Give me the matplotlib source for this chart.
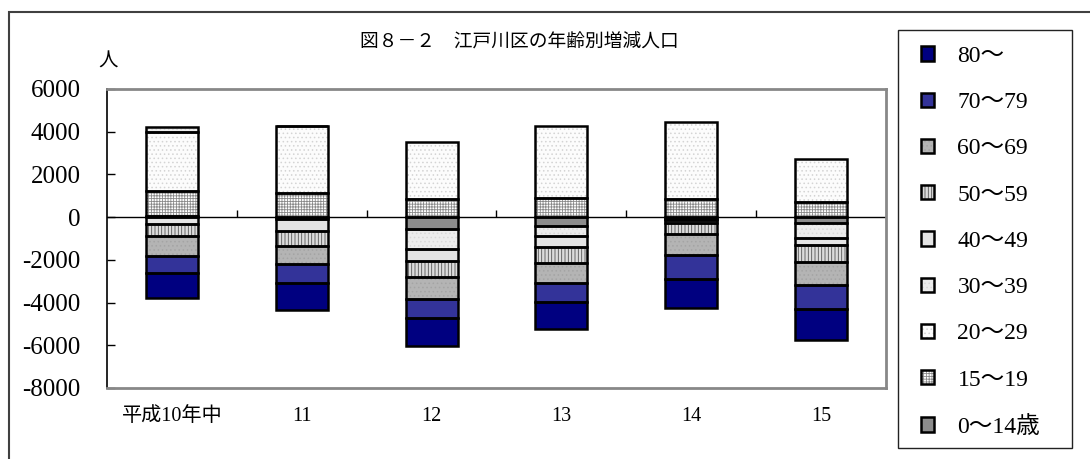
import matplotlib
matplotlib.use("Agg")
import matplotlib.pyplot as plt
from matplotlib.patches import Patch, Rectangle
import numpy as np

SERIF = ["Liberation Serif", "Noto Sans CJK JP"]
CJK = ["Noto Sans CJK JP", "Liberation Serif"]

plt.rcParams["font.family"] = SERIF
plt.rcParams["axes.unicode_minus"] = False
plt.rcParams["hatch.linewidth"] = 0.6

# 年次
years = ["平成10年中", "11", "12", "13", "14", "15"]

# 年齢階級（積み上げ順）
groups = ["0～14歳", "15～19", "20～29", "30～39", "40～49",
          "50～59", "60～69", "70～79", "80～"]

# 年齢階級別増減人口（人）
age_0_14 = [60, -80, -560, -420, -90, -290]
age_15_19 = [1180, 1130, 850, 915, 840, 710]
age_20_29 = [2730, 3115, 2680, 3330, 3600, 2015]
age_30_39 = [230, 0, -945, -450, -60, -670]
age_40_49 = [-330, -555, -540, -540, -110, -340]
age_50_59 = [-570, -700, -760, -745, -540, -820]
age_60_69 = [-930, -870, -1010, -930, -960, -1040]
age_70_79 = [-790, -870, -915, -885, -1130, -1160]
age_80 = [-1160, -1255, -1300, -1255, -1365, -1430]

series = [age_0_14, age_15_19, age_20_29, age_30_39, age_40_49,
          age_50_59, age_60_69, age_70_79, age_80]

# 塗り: (地の色, ハッチ, ハッチの色)
styles = [
    ("#8c8c8c", None, "#8c8c8c"),
    ("#ffffff", "++++++", "#8a8a8a"),
    ("#fcfcfc", "....", "#d4d4d4"),
    ("#ececec", "....", "#d8d8d8"),
    ("#e4e4e4", None, "#e4e4e4"),
    ("#dcdcdc", "|||||", "#555555"),
    ("#b4b4b4", "....", "#a4a4a4"),
    ("#333399", None, "#333399"),
    ("#000080", None, "#000080"),
]

fig = plt.figure(figsize=(10.9, 4.59), dpi=100)
W, H = 1090, 459

# 外枠
fig.patches.append(Rectangle((9 / W, -0.2), 1.5, 1.2 - 12 / H,
                             transform=fig.transFigure, fill=False,
                             edgecolor="#404040", linewidth=1.5))

ax = fig.add_axes([107 / W, 1 - 388 / H, (886 - 107) / W, (388 - 89) / H])

x = np.arange(len(years))
width = 0.40
pos_bottom = np.zeros(len(years))
neg_bottom = np.zeros(len(years))
handles = []
for vals, (face, hatch, hcol), name in zip(series, styles, groups):
    v = np.array(vals, dtype=float)
    bottom = np.where(v >= 0, pos_bottom, neg_bottom)
    ax.bar(x, v, width, bottom=bottom, color=face, hatch=hatch,
           edgecolor=hcol, linewidth=0, zorder=2)
    ax.bar(x, v, width, bottom=bottom, fill=False,
           edgecolor="black", linewidth=1.8, zorder=3)
    pos_bottom = pos_bottom + np.where(v >= 0, v, 0)
    neg_bottom = neg_bottom + np.where(v < 0, v, 0)
    h_fill = Patch(facecolor=face, hatch=hatch, edgecolor=hcol, linewidth=0)
    h_edge = Patch(fill=False, edgecolor="black", linewidth=1.8)
    handles.append(((h_fill, h_edge), name))

# ゼロ線と区切り目盛
ax.axhline(0, color="black", linewidth=1.0, zorder=1)
ax.plot(x[:-1] + 0.5, np.zeros(len(years) - 1), linestyle="none",
        marker=2, markersize=5, markeredgewidth=1.0, color="black", zorder=1)

ax.set_xlim(-0.5, len(years) - 0.5)
ax.set_ylim(-8000, 6000)
ax.set_yticks(np.arange(-8000, 6001, 2000))
ax.set_xticks(x)
ax.set_xticklabels(years)
ax.tick_params(axis="x", length=0, pad=14, labelsize=14.5)
ax.tick_params(axis="y", direction="in", length=6, width=1.0, pad=19,
               labelsize=18)

for side in ("top", "right", "bottom"):
    ax.spines[side].set_color("#888888")
    ax.spines[side].set_linewidth(2.0)
ax.spines["left"].set_color("black")
ax.spines["left"].set_linewidth(1.2)

fig.text(519 / W, 1 - 42 / H, "図８－２　江戸川区の年齢別増減人口",
         family=CJK, fontsize=13.5, ha="center", va="center")
fig.text(108 / W, 1 - 61 / H, "人", family=CJK, fontsize=14,
         ha="center", va="center")

# 凡例
fig.patches.append(Rectangle((898 / W, 1 - 448 / H), (1072 - 898) / W,
                             (448 - 30) / H, transform=fig.transFigure,
                             fill=False, edgecolor="#222222", linewidth=1.0))
leg_items = handles[::-1]
leg = fig.legend([h for h, _ in leg_items], [n for _, n in leg_items],
                 loc="upper left", bbox_to_anchor=(902 / W, 1 - 27 / H),
                 frameon=False, prop={"size": 17},
                 handlelength=0.55, handleheight=0.55, handletextpad=1.0,
                 labelspacing=1.07, borderpad=0.3)

fig.savefig("out.png", dpi=100)
